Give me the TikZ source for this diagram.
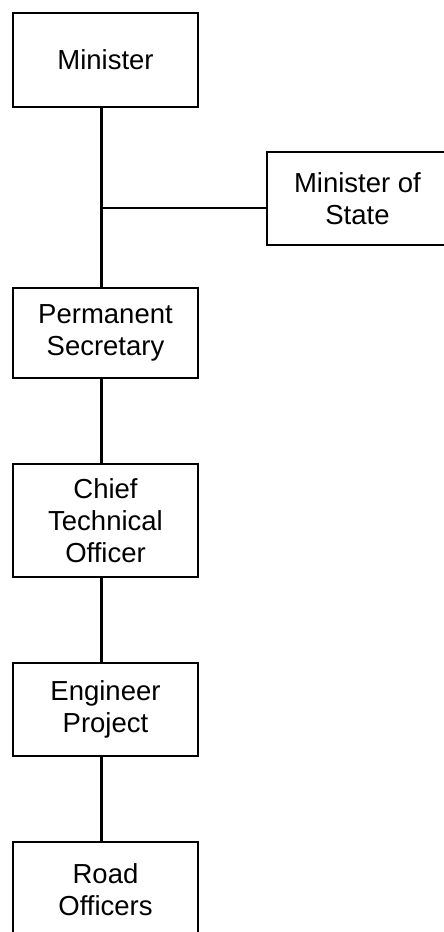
\documentclass[tikz,border=0pt]{standalone}
\usepackage{fontspec}
\setmainfont{Liberation Sans}
\begin{document}
\begin{tikzpicture}[x=1pt,y=-1pt,
  box/.style={draw, line width=1.7pt, rectangle, inner sep=0pt, align=center,
    minimum width=185pt, font=\fontsize{27.5}{32}\selectfont},
  link/.style={line width=3pt},
  side/.style={line width=1.5pt}]
\useasboundingbox (0,0) rectangle (444,932);
\node[box, minimum height=94pt] (min) at (105.5,60) {Minister};
\node[box, minimum width=181pt, minimum height=93pt] (mos) at (357.5,198.5) {Minister of\\State};
\node[box, minimum height=90pt] (ps) at (105.5,333) {Permanent\\Secretary};
\node[box, minimum height=113pt] (cto) at (105.5,520.5) {Chief\\Technical\\Officer};
\node[box, minimum height=93pt] (ep) at (105.5,709.5) {Engineer\\Project};
\node[box, minimum height=96pt] (ro) at (105.5,890) {Road\\Officers};
\coordinate (spine) at (101,0);
\coordinate (br) at (101,208);
\draw[link] (min.south -| spine) -- (ps.north -| spine);
\draw[link] (ps.south -| spine) -- (cto.north -| spine);
\draw[link] (cto.south -| spine) -- (ep.north -| spine);
\draw[link] (ep.south -| spine) -- (ro.north -| spine);
\draw[side] (br) -- (br -| mos.west);
\end{tikzpicture}
\end{document}
